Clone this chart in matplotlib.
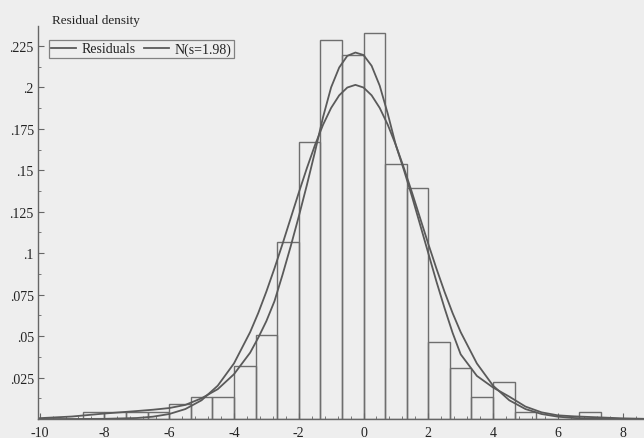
import numpy as np
import matplotlib
matplotlib.use("Agg")
import matplotlib.pyplot as plt
from matplotlib.ticker import MultipleLocator, FixedLocator, FuncFormatter

# histogram of residuals, bins of width 2/3
bin_edges = [i * 2 / 3 for i in range(-13, 12)]
bar_heights = [0.0044, 0.0044, 0.0044, 0.0044, 0.0088, 0.0132, 0.0132, 0.032,
               0.0506, 0.107, 0.1673, 0.2285, 0.2195, 0.233, 0.1536, 0.1396,
               0.0464, 0.031, 0.013, 0.0225, 0.0044, 0.0, 0.0, 0.0044]

# curves
curve_x = [-10, -9, -8, -7, -6.5, -6, -5.5, -5, -4.5, -4, -3.5, -3.25, -3, -2.75,
           -2.5, -2.25, -2, -1.75, -1.5, -1.25, -1, -0.75, -0.5, -0.25, 0, 0.25,
           0.5, 0.75, 1, 1.25, 1.5, 1.75, 2, 2.25, 2.5, 2.75, 3, 3.5, 4, 4.5,
           5, 5.5, 6, 6.5, 7, 8, 8.7]
resid_density = [0.0005, 0.0015, 0.0033, 0.0048, 0.0056, 0.0066, 0.0085, 0.0125,
                 0.018, 0.027, 0.040, 0.049, 0.059, 0.071, 0.087, 0.104, 0.122,
                 0.141, 0.161, 0.182, 0.200, 0.212, 0.219, 0.221, 0.2195, 0.213,
                 0.201, 0.184, 0.165, 0.150, 0.134, 0.117, 0.100, 0.083, 0.067,
                 0.052, 0.039, 0.026, 0.019, 0.0135, 0.0075, 0.0040, 0.0022,
                 0.0016, 0.0012, 0.0004, 0.0001]
normal_density = [0.0, 0.0, 0.0001, 0.0006, 0.0014, 0.0030, 0.0060, 0.0113,
                  0.0201, 0.0335, 0.0524, 0.0639, 0.0768, 0.0908, 0.1056, 0.1210,
                  0.1364, 0.1512, 0.1651, 0.1774, 0.1876, 0.1952, 0.1999, 0.2015,
                  0.1999, 0.1952, 0.1876, 0.1774, 0.1651, 0.1512, 0.1364, 0.1210,
                  0.1056, 0.0908, 0.0768, 0.0639, 0.0524, 0.0335, 0.0201, 0.0113,
                  0.0060, 0.0030, 0.0014, 0.0006, 0.00025, 0.00003, 0.0]

y_ticks = [0.025, 0.05, 0.075, 0.1, 0.125, 0.15, 0.175, 0.2, 0.225]

plt.rcParams['font.family'] = ['Liberation Serif', 'DejaVu Serif']
plt.rcParams['axes.unicode_minus'] = False

bg = '#eeeeee'
line_col = '#5a5a5a'
edge_col = '#6e6e6e'

fig = plt.figure(figsize=(6.44, 4.39), dpi=100, facecolor=bg)
ax = fig.add_axes([38 / 644, 19 / 439, 606 / 644, 393 / 439], facecolor=bg)

ax.bar(bin_edges[:-1], bar_heights, width=np.diff(bin_edges), align='edge',
       fill=False, edgecolor=edge_col, linewidth=1.0)
ax.plot(curve_x, resid_density, color=line_col, lw=1.3, label='Residuals')
ax.plot(curve_x, normal_density, color=line_col, lw=1.3, label='N(s=1.98)')

ax.set_xlim(-10.05, 8.66)
ax.set_ylim(0, 0.237)

for s in ['top', 'right']:
    ax.spines[s].set_visible(False)
for s in ['left', 'bottom']:
    ax.spines[s].set_color('#666666')
    ax.spines[s].set_linewidth(1.0)

ax.xaxis.set_major_locator(MultipleLocator(2))
ax.xaxis.set_minor_locator(MultipleLocator(0.4))
ax.yaxis.set_major_locator(FixedLocator(y_ticks))
ax.yaxis.set_minor_locator(MultipleLocator(0.0125))
ax.yaxis.set_major_formatter(FuncFormatter(lambda v, p: ('%g' % v).lstrip('0')))
ax.xaxis.set_major_formatter(FuncFormatter(lambda v, p: '%d' % round(v)))
ax.tick_params(which='both', direction='in', colors='#666666', labelcolor='#222222',
               labelsize=10)
ax.tick_params(which='major', length=4, width=0.8)
ax.tick_params(which='minor', length=2, width=0.6)
ax.tick_params(axis='y', pad=3)
ax.tick_params(axis='x', pad=5)

fig.text(52 / 644, 1 - 21 / 439, 'Residual density', fontsize=9.5, color='#222222',
         va='center', ha='left')

leg = ax.legend(loc='upper left', bbox_to_anchor=(11 / 606, 1 - 14 / 393), ncol=2,
                fontsize=10, frameon=True, fancybox=False, handlelength=1.8,
                handletextpad=0.4, columnspacing=0.6, borderpad=0.15,
                borderaxespad=0)
leg.get_frame().set_edgecolor('#666666')
leg.get_frame().set_facecolor(bg)
leg.get_frame().set_linewidth(0.9)
for t in leg.get_texts():
    t.set_color('#222222')

fig.savefig('out.png', dpi=100, facecolor=bg)
